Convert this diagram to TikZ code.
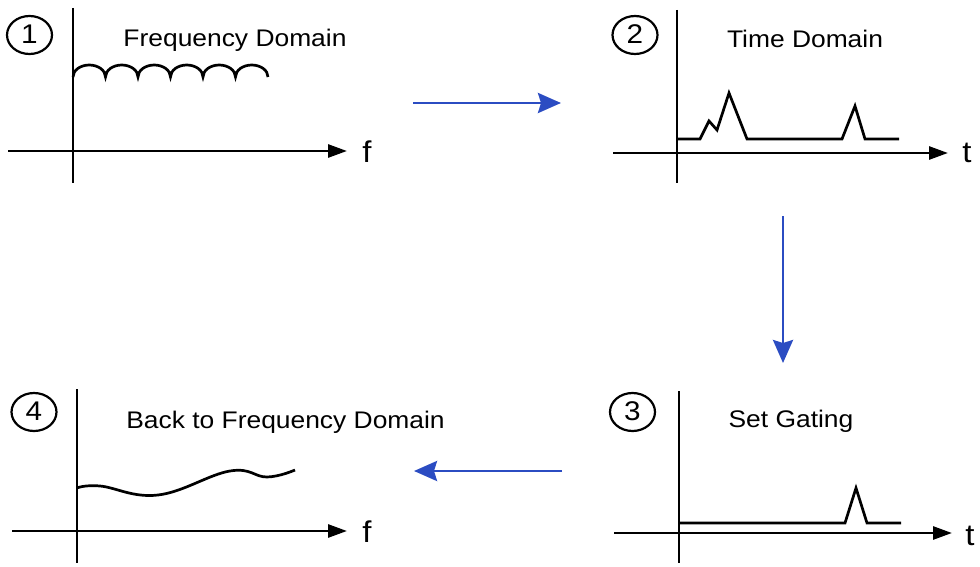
\documentclass[tikz,border=0pt]{standalone}
\usepackage{fontspec}
\setmainfont[FakeStretch=1.1]{Liberation Sans}
\usetikzlibrary{arrows.meta,shapes.geometric}
\definecolor{flowblue}{HTML}{2B4CC2}
\begin{document}
\begin{tikzpicture}[x=1pt,y=-1pt,
  axis/.style={line width=2.7pt,-{Triangle[length=19pt,width=13pt]}},
  vaxis/.style={line width=2.7pt},
  sig/.style={line width=2.7pt,line join=miter},
  flow/.style={flowblue,line width=2.8pt,-{Stealth[length=23pt,width=20pt,inset=3pt]}},
  num/.style={draw,line width=2.2pt,ellipse,minimum width=45pt,minimum height=38pt,inner sep=0pt,text depth=2pt,font=\fontsize{27}{27}\selectfont},
  title/.style={inner sep=0pt,anchor=base,font=\fontsize{24}{28}\selectfont},
  axlabel/.style={inner sep=0pt,anchor=base,font=\fontsize{30}{32}\selectfont}]
\path[use as bounding box] (0,0) rectangle (980,567);

% Panel 1
\coordinate (v1a) at (73,8); \coordinate (v1b) at (73,183);
\coordinate (h1a) at (8,151); \coordinate (h1b) at (347,151);
\draw[vaxis] (v1a) -- (v1b);
\draw[axis] (h1a) -- (h1b);
\node[axlabel] (f1) at (367,162) {f};
\node[num] (n1) at (29.5,35) {1};
\node[title] (t1) at (235,47) {Frequency Domain};
\draw[sig] (73,77)
  arc[start angle=180,end angle=360,x radius=16.25,y radius=12]
  arc[start angle=180,end angle=360,x radius=16.25,y radius=12]
  arc[start angle=180,end angle=360,x radius=16.25,y radius=12]
  arc[start angle=180,end angle=360,x radius=16.25,y radius=12]
  arc[start angle=180,end angle=360,x radius=16.25,y radius=12]
  arc[start angle=180,end angle=360,x radius=16.25,y radius=12];

% Panel 2
\coordinate (v2a) at (677,10); \coordinate (v2b) at (677,183);
\coordinate (h2a) at (613,153); \coordinate (h2b) at (948,153);
\draw[vaxis] (v2a) -- (v2b);
\draw[axis] (h2a) -- (h2b);
\node[axlabel] (l2) at (967,163) {t};
\node[num] (n2) at (635,35) {2};
\node[title] (t2) at (805,48) {Time Domain};
\draw[sig] (677,139) -- (700,139) -- (709,121) -- (717,130) -- (729,93) -- (747,139)
  -- (842,139) -- (855,106) -- (865,139) -- (899,139);

% Panel 3
\coordinate (v3a) at (679,391); \coordinate (v3b) at (679,563);
\coordinate (h3a) at (614,533); \coordinate (h3b) at (952,533);
\draw[vaxis] (v3a) -- (v3b);
\draw[axis] (h3a) -- (h3b);
\node[axlabel] (l3) at (970,545) {t};
\node[num] (n3) at (632.5,412) {3};
\node[title] (t3) at (791,427) {Set Gating};
\draw[sig] (679,523) -- (845,523) -- (856,488) -- (867,523) -- (901,523);

% Panel 4
\coordinate (v4a) at (77,389); \coordinate (v4b) at (77,563);
\coordinate (h4a) at (12,531); \coordinate (h4b) at (347,531);
\draw[vaxis] (v4a) -- (v4b);
\draw[axis] (h4a) -- (h4b);
\node[axlabel] (f4) at (367,542) {f};
\node[num] (n4) at (34,412) {4};
\node[title] (t4) at (285.5,428) {Back to Frequency Domain};
\draw[sig] plot[smooth,tension=0.7] coordinates {(77,488) (100,486) (158,495) (230,471) (267,477) (295,470)};

% Flow arrows
\coordinate (a1s) at (413,103); \coordinate (a1e) at (561,103);
\coordinate (a2s) at (783,216); \coordinate (a2e) at (783,363);
\coordinate (a3s) at (562,471); \coordinate (a3e) at (414,471);
\draw[flow] (a1s) -- (a1e);
\draw[flow] (a2s) -- (a2e);
\draw[flow] (a3s) -- (a3e);
\end{tikzpicture}
\end{document}
